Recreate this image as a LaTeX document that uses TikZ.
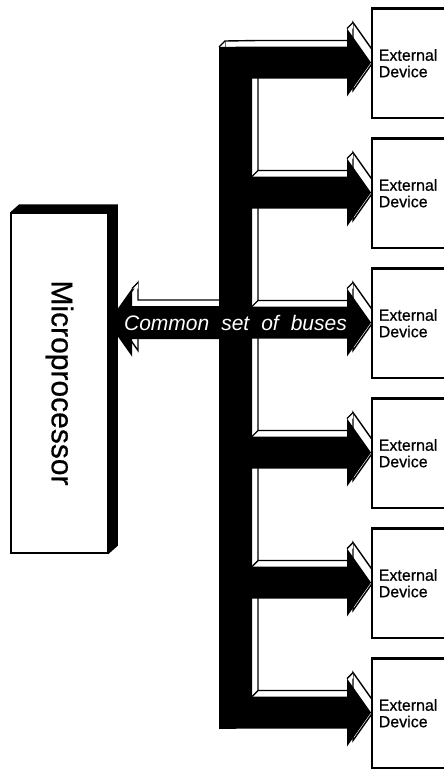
\documentclass[tikz,border=0pt]{standalone}
\usepackage{fontspec}
\setmainfont{Liberation Sans}
\newfontfamily\scanfont[FakeBold=0.6]{Liberation Sans}
\usepackage{graphicx}
\usepackage{tikz}
\usetikzlibrary{positioning,calc}

\newcommand{\busshape}{%
  (219,47)
  \foreach \cy in {62.5,192.5,322.5,452.5,582.5,712.5}{
    -- (252,{\cy-16}) -- (347,{\cy-16}) -- (347,{\cy-34}) -- (371,\cy)
    -- (347,{\cy+34}) -- (347,{\cy+16}) -- (252,{\cy+16})}
  -- (219,729) -- (219,339) -- (132,339) -- (132,356.5) -- (108,322.5)
  -- (132,288.5) -- (132,306) -- (219,306) -- cycle}

\begin{document}
\begin{tikzpicture}[
    x=1pt, y=-1pt,
    devbox/.style={rectangle, draw=black, fill=white, line width=1.5pt,
        anchor=north west, minimum height=109pt, text width=86pt,
        inner xsep=7pt, align=left, font=\scanfont\fontsize{16}{16.5}\selectfont},
    procbox/.style={rectangle, draw=black, fill=white, line width=1.5pt,
        minimum width=97pt, minimum height=340pt,
        font=\scanfont\fontsize{30}{30}\selectfont},
    buslabel/.style={text=white, inner sep=0pt,
        font=\fontsize{21}{21}\selectfont\itshape},
    facefill/.style={fill=white, draw=black, line width=1.4pt},
    rimline/.style={draw=black, line width=1.4pt}
]
\useasboundingbox (0,0) rectangle (444,769);
\clip (0,0) rectangle (444,769);
\fill[white] (0,0) rectangle (444,769);

\path[facefill, shift={(6,-6)}] \busshape;
\fill[white] (219,47) -- ++(6,-6) -- ++(0,6) -- cycle;
\draw[rimline] (219,47) -- ++(6,-6);
\foreach \cy in {62.5,192.5,322.5,452.5,582.5,712.5}{
  \fill[white] (347,{\cy-34}) -- ++(6,-6) -- ++(0,6) -- cycle;
  \draw[rimline] (347,{\cy-34}) -- ++(6,-6);
}
\foreach \cy in {192.5,322.5,452.5,582.5,712.5}
  \draw[rimline] (252,{\cy-16}) -- ++(6,-6);
\fill[white] (132,288.5) -- ++(6,-6) -- ++(0,6) -- cycle;
\draw[rimline] (132,288.5) -- ++(6,-6);
\fill[black] \busshape;

\node[buslabel] (buslbl) at (235.5,322.5)
  {Common\hspace{12pt}set\hspace{12pt}of\hspace{12pt}buses};

\node[procbox] (micro) at (59.5,383) {\rotatebox{-90}{Microprocessor}};
\fill[black] (micro.north west) -- ++(9,-8) -- ([shift={(9,-8)}]micro.north east)
  -- ([shift={(9,-8)}]micro.south east) -- (micro.south east)
  -- (micro.north east) -- cycle;

\foreach \k in {1,...,6}{
  \node[devbox] (dev\k) at (371,{8+130*(\k-1)}) {External\\Device};
  \draw[line width=3pt] (dev\k.north west) -- (dev\k.north east);
}
\end{tikzpicture}
\end{document}
